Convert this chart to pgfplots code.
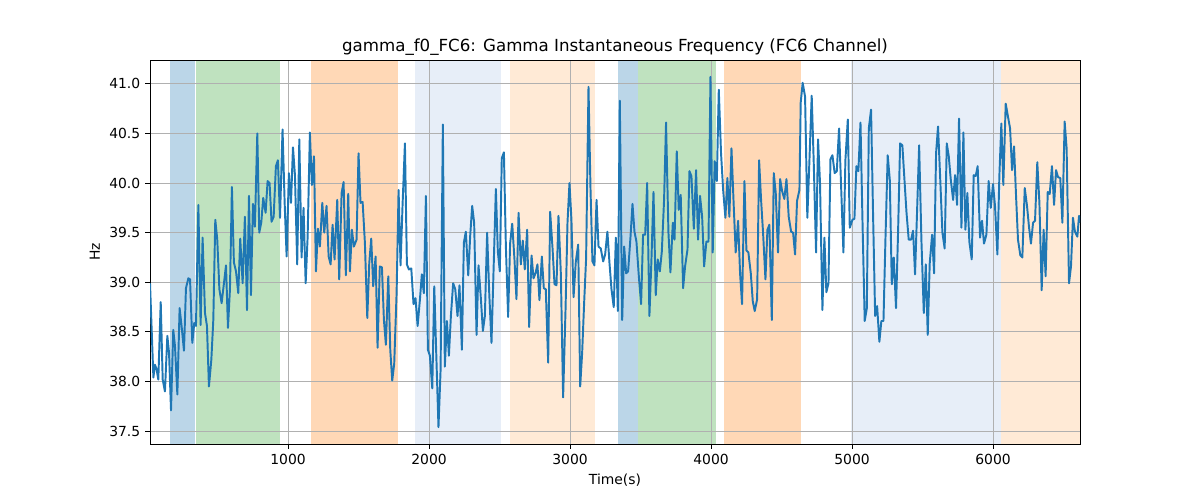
\documentclass[border=0pt]{standalone}
\usepackage{pgfplots}
\pgfplotsset{compat=1.18}
\usepackage{fontspec}
\setmainfont{DejaVu Sans}
\definecolor{c0}{HTML}{1F77B4}
\definecolor{c1}{HTML}{FF7F0E}
\definecolor{c2}{HTML}{2CA02C}
\definecolor{lb}{HTML}{AEC7E8}
\definecolor{lo}{HTML}{FFBB78}
\begin{document}
\begin{tikzpicture}
\path (0,0) rectangle (864pt,360pt);
\begin{axis}[at={(108pt,40.3pt)},anchor=south west,scale only axis,width=669.6pt,height=276.5pt,
xmin=21,xmax=6617,ymin=37.37,ymax=41.24,
xtick={1000,2000,3000,4000,5000,6000},ytick={37.5,38,38.5,39,39.5,40,40.5,41},
xtick pos=bottom,ytick pos=left,
xticklabel style={/pgf/number format/.cd,1000 sep={}},
yticklabel style={/pgf/number format/.cd,fixed,fixed zerofill,precision=1},
/pgf/number format/assume math mode=true,
grid=major,grid style={color=black!31,line width=0.6pt},
tick align=outside,tick style={black,line width=0.6pt},major tick length=3.5pt,
ticklabel style={font=\fontsize{10pt}{12pt}\selectfont},
xlabel={Time(s)},ylabel={Hz},label style={font=\fontsize{10pt}{12pt}\selectfont},
title={gamma\_f0\_FC6: Gamma Instantaneous Frequency (FC6 Channel)},
title style={font=\fontsize{12pt}{14pt}\selectfont,yshift=-6pt},
axis line style={line width=0.6pt},set layers]
\pgfonlayer{axis background}
\fill[c0,opacity=0.3] (axis cs:163,37.37) rectangle (axis cs:340,41.24);
\fill[c2,opacity=0.3] (axis cs:347,37.37) rectangle (axis cs:943,41.24);
\fill[c1,opacity=0.3] (axis cs:1163,37.37) rectangle (axis cs:1780,41.24);
\fill[lb,opacity=0.3] (axis cs:1901,37.37) rectangle (axis cs:2511,41.24);
\fill[lo,opacity=0.3] (axis cs:2575,37.37) rectangle (axis cs:3177,41.24);
\fill[c0,opacity=0.3] (axis cs:3340,37.37) rectangle (axis cs:3482,41.24);
\fill[c2,opacity=0.3] (axis cs:3482,37.37) rectangle (axis cs:4035,41.24);
\fill[c1,opacity=0.3] (axis cs:4092,37.37) rectangle (axis cs:4638,41.24);
\fill[lb,opacity=0.3] (axis cs:4993,37.37) rectangle (axis cs:6057,41.24);
\fill[lo,opacity=0.3] (axis cs:6057,37.37) rectangle (axis cs:6617,41.24);
\endpgfonlayer
\addplot[c0,line width=1.4pt,line join=round] coordinates {
(21,38.99)(45,38.04)(56,38.17)(68,38.12)(80,38.02)(97,38.80)(111,38.02)(127,37.90)(144,38.46)(156,38.29)(170,37.71)(186,38.52)(198,38.36)(215,37.87)(231,38.74)(245,38.56)(262,38.31)(276,38.94)(293,39.04)(305,39.03)(321,38.39)(335,38.59)(347,38.56)(364,39.78)(380,38.57)(394,39.45)(411,38.69)(425,38.56)(439,37.95)(456,38.22)(470,38.62)(484,39.63)(498,39.43)(513,38.93)(529,38.79)(543,38.96)(560,39.17)(574,38.54)(588,38.93)(602,39.96)(616,39.20)(631,39.11)(647,38.89)(661,39.44)(678,38.99)(694,39.66)(709,38.72)(723,39.87)(737,38.87)(751,39.79)(765,39.56)(782,40.50)(796,39.50)(810,39.60)(824,39.85)(841,39.70)(855,40.02)(869,40.00)(883,39.61)(898,39.66)(914,40.17)(928,40.23)(943,39.65)(961,40.54)(976,39.80)(990,39.26)(1006,40.10)(1021,39.80)(1035,40.36)(1049,40.08)(1065,39.18)(1080,40.44)(1096,39.25)(1110,39.75)(1125,38.99)(1139,39.46)(1155,40.51)(1169,39.98)(1184,40.27)(1198,39.11)(1212,39.54)(1226,39.36)(1243,39.80)(1257,39.50)(1273,39.77)(1288,39.26)(1302,39.18)(1316,39.58)(1330,39.23)(1349,39.83)(1363,39.03)(1380,39.90)(1394,40.01)(1410,39.07)(1427,39.89)(1439,39.11)(1453,39.53)(1467,39.36)(1486,39.43)(1500,40.30)(1514,39.80)(1529,39.81)(1545,39.40)(1562,38.64)(1576,39.19)(1590,39.44)(1604,38.96)(1621,39.26)(1635,38.34)(1651,39.16)(1666,39.15)(1680,38.62)(1694,38.37)(1711,39.06)(1725,38.32)(1739,38.01)(1753,38.18)(1770,38.89)(1784,39.93)(1798,39.17)(1812,39.77)(1829,40.40)(1843,39.18)(1857,39.13)(1874,39.14)(1890,38.78)(1904,38.84)(1919,38.56)(1935,38.82)(1949,39.08)(1963,38.89)(1978,39.87)(1992,38.32)(2006,38.26)(2023,37.93)(2037,38.96)(2051,38.29)(2067,37.54)(2082,38.12)(2098,40.59)(2112,38.15)(2127,38.61)(2141,38.26)(2155,38.66)(2171,38.99)(2186,38.93)(2202,38.66)(2216,38.97)(2233,38.32)(2247,39.40)(2261,39.51)(2278,39.07)(2292,39.47)(2306,39.77)(2320,39.60)(2337,38.47)(2351,39.17)(2368,38.83)(2382,38.51)(2396,38.66)(2412,39.50)(2427,38.89)(2443,38.39)(2457,39.09)(2474,39.94)(2488,39.31)(2502,39.11)(2516,40.25)(2531,40.31)(2545,39.36)(2561,38.65)(2575,39.39)(2590,39.59)(2606,39.23)(2620,38.83)(2635,39.70)(2651,39.18)(2665,39.42)(2679,39.13)(2696,39.53)(2710,38.55)(2727,39.27)(2741,39.04)(2755,39.09)(2769,39.18)(2783,38.82)(2800,39.26)(2814,38.94)(2828,38.93)(2845,38.19)(2859,39.71)(2876,39.34)(2890,38.98)(2904,38.97)(2918,39.67)(2935,39.08)(2951,37.84)(2968,38.72)(2982,39.60)(2996,40.00)(3010,39.63)(3025,38.85)(3041,39.21)(3058,39.38)(3072,37.95)(3086,38.29)(3100,38.79)(3114,39.24)(3131,40.97)(3145,39.95)(3159,39.21)(3173,39.17)(3188,39.83)(3202,39.36)(3218,39.34)(3235,39.21)(3249,39.28)(3265,39.51)(3280,39.19)(3294,38.93)(3310,38.75)(3325,39.45)(3339,38.71)(3353,40.83)(3370,38.62)(3384,39.36)(3398,39.09)(3412,39.11)(3429,39.46)(3443,39.79)(3457,39.51)(3471,39.41)(3488,39.06)(3504,38.78)(3518,39.48)(3533,39.48)(3547,40.00)(3563,38.66)(3577,39.21)(3592,39.91)(3608,38.87)(3622,39.23)(3637,39.11)(3651,39.31)(3667,39.83)(3681,40.61)(3698,39.50)(3712,39.10)(3729,39.60)(3741,39.43)(3757,40.32)(3771,39.73)(3785,39.88)(3802,38.94)(3816,39.16)(3833,39.33)(3847,40.12)(3861,40.07)(3878,39.54)(3894,40.13)(3908,39.43)(3922,39.87)(3937,39.66)(3951,39.16)(3967,39.41)(3982,39.41)(3996,41.07)(4012,39.30)(4026,40.22)(4041,40.02)(4055,40.94)(4071,40.30)(4086,39.93)(4102,39.65)(4116,40.05)(4130,39.66)(4145,40.35)(4161,39.77)(4175,39.30)(4192,39.62)(4206,39.09)(4220,38.78)(4237,40.02)(4251,39.32)(4265,39.30)(4282,39.09)(4296,38.81)(4310,38.71)(4327,38.83)(4341,40.23)(4355,39.83)(4369,39.50)(4386,39.03)(4400,39.53)(4414,39.58)(4431,38.62)(4445,40.10)(4459,39.90)(4475,39.30)(4490,40.04)(4504,39.92)(4520,39.84)(4535,40.04)(4551,39.66)(4568,39.51)(4582,39.50)(4596,39.28)(4610,39.82)(4627,39.93)(4636,40.81)(4650,41.01)(4667,40.87)(4683,39.65)(4698,40.23)(4714,40.88)(4728,40.23)(4745,39.30)(4759,40.44)(4773,40.00)(4790,38.72)(4804,39.45)(4818,38.90)(4833,38.99)(4847,40.24)(4861,40.28)(4877,40.10)(4892,40.12)(4908,40.55)(4925,39.87)(4939,39.30)(4953,40.23)(4970,40.64)(4984,39.55)(5003,39.63)(5017,39.64)(5031,40.17)(5045,40.12)(5060,40.61)(5074,39.63)(5090,38.61)(5105,38.74)(5119,40.55)(5135,40.74)(5149,39.70)(5164,38.66)(5178,38.76)(5194,38.40)(5208,38.61)(5223,38.61)(5237,39.43)(5253,40.28)(5268,40.03)(5282,38.98)(5296,39.25)(5312,38.74)(5327,39.53)(5341,40.40)(5357,40.38)(5372,40.03)(5386,39.71)(5402,39.43)(5419,39.43)(5433,39.52)(5447,39.08)(5461,39.70)(5476,40.38)(5492,39.43)(5509,38.69)(5523,39.18)(5537,38.47)(5551,39.19)(5568,39.48)(5582,39.09)(5596,40.30)(5610,40.57)(5627,39.99)(5641,39.50)(5657,39.34)(5672,40.40)(5686,40.27)(5700,40.04)(5717,39.83)(5731,40.08)(5745,39.78)(5759,40.65)(5776,39.55)(5790,40.51)(5804,39.53)(5818,39.90)(5832,39.41)(5849,39.23)(5863,40.08)(5877,40.07)(5891,40.17)(5908,39.45)(5922,39.62)(5936,39.39)(5953,39.48)(5969,40.02)(5984,39.75)(6000,39.99)(6014,39.77)(6031,39.28)(6045,40.07)(6059,40.60)(6073,39.98)(6090,40.80)(6106,40.67)(6121,40.55)(6135,40.13)(6149,40.37)(6163,39.88)(6177,39.43)(6194,39.27)(6208,39.25)(6225,39.95)(6241,39.77)(6255,39.56)(6269,39.39)(6284,39.60)(6298,39.62)(6314,40.21)(6329,39.80)(6345,38.92)(6359,39.53)(6373,39.06)(6388,39.91)(6402,39.89)(6418,40.17)(6433,39.78)(6447,40.13)(6461,40.06)(6477,40.05)(6492,39.60)(6508,40.62)(6522,40.35)(6539,38.99)(6553,39.16)(6567,39.65)(6581,39.51)(6598,39.46)(6610,39.67)(6617,39.60)
};
\end{axis}
\end{tikzpicture}
\end{document}
